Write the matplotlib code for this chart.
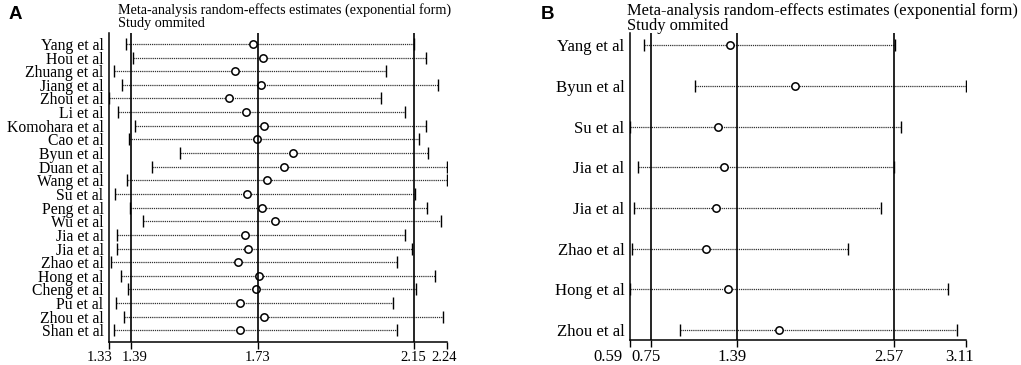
import matplotlib
matplotlib.use("Agg")
import matplotlib.pyplot as plt
from matplotlib.transforms import ScaledTranslation

plt.rcParams["font.family"] = ["Liberation Serif", "DejaVu Serif"]

# panel A: leave-one-out estimates (exponential form)
studies_a = ["Yang et al", "Hou et al", "Zhuang et al", "Jiang et al", "Zhou et al",
             "Li et al", "Komohara et al", "Cao et al", "Byun et al", "Duan et al",
             "Wang et al", "Su et al", "Peng et al", "Wu et al", "Jia et al",
             "Jia et al", "Zhao et al", "Hong et al", "Cheng et al", "Pu et al",
             "Zhou et al", "Shan et al"]
est_a = [1.718, 1.744, 1.669, 1.739, 1.654, 1.698, 1.748, 1.728, 1.824, 1.800,
         1.756, 1.702, 1.742, 1.778, 1.695, 1.704, 1.677, 1.733, 1.727, 1.682,
         1.748, 1.682]
low_a = [1.375, 1.395, 1.343, 1.365, 1.33, 1.354, 1.400, 1.383, 1.522, 1.446,
         1.378, 1.347, 1.386, 1.422, 1.351, 1.352, 1.335, 1.361, 1.381, 1.349,
         1.370, 1.344]
high_a = [2.151, 2.183, 2.076, 2.216, 2.062, 2.128, 2.183, 2.164, 2.188, 2.241,
          2.239, 2.154, 2.186, 2.223, 2.126, 2.146, 2.106, 2.207, 2.156, 2.095,
          2.230, 2.105]
ref_a = [1.39, 1.73, 2.15]
ticks_a = [1.33, 1.39, 1.73, 2.15, 2.24]

# panel B
studies_b = ["Yang et al", "Byun et al", "Su et al", "Jia et al", "Jia et al",
             "Zhao et al", "Hong et al", "Zhou et al"]
est_b = [1.343, 1.831, 1.249, 1.294, 1.236, 1.161, 1.324, 1.711]
low_b = [0.697, 1.078, 0.59, 0.648, 0.618, 0.603, 0.59, 0.963]
high_b = [2.579, 3.11, 2.627, 2.572, 2.475, 2.227, 2.977, 3.043]
ref_b = [0.75, 1.39, 2.57]
ticks_b = [0.59, 0.75, 1.39, 2.57, 3.11]

title = "Meta-analysis random-effects estimates (exponential form)\nStudy ommited"

fig = plt.figure(figsize=(10.21, 3.65), dpi=100)


def draw_panel(ax, names, est, low, high, refs, ticks, pad_top, pad_bot,
               fs, tick_fs, shifts):
    n = len(names)
    ys = list(range(1, n + 1))
    for y, lo, hi in zip(ys, low, high):
        ax.plot([lo, hi], [y, y], color="#333333", lw=0.9, ls=(0, (1, 0.7)))
        ax.plot([lo, hi], [y, y], ls="none", marker="|", ms=8, mew=1.0, color="black")
    ax.plot(est, ys, ls="none", marker="o", ms=5.3, mfc="white", mec="black", mew=1.1)
    for r in refs:
        ax.axvline(r, color="black", lw=1.2)
    ax.set_xlim(ticks[0], ticks[-1])
    ax.set_ylim(n + pad_bot, 1 - pad_top)
    ax.set_yticks(ys)
    ax.set_yticklabels(names, fontsize=fs)
    ax.tick_params(axis="y", length=0, pad=4)
    ax.set_xticks(ticks)
    ax.set_xticklabels([f"{t:.2f}" for t in ticks], fontsize=tick_fs)
    ax.tick_params(axis="x", direction="out", length=5, width=1, pad=1.5)
    # nudge crowded tick labels sideways like the original
    for lab, dx in zip(ax.get_xticklabels(), shifts):
        lab.set_transform(lab.get_transform() +
                          ScaledTranslation(dx / 100, 0, fig.dpi_scale_trans))
    for s in ["top", "right"]:
        ax.spines[s].set_visible(False)
    for s in ["left", "bottom"]:
        ax.spines[s].set_linewidth(1.1)


ax_a = fig.add_axes([0.1068, 0.063, 0.331, 0.8466])
draw_panel(ax_a, studies_a, est_a, low_a, high_a, ref_a, ticks_a, 0.8, 0.85,
           11.3, 10.5, [-9, 3, 0, 0, -3])
fig.text(0.1155, 0.993, title, ha="left", va="top", fontsize=10.2, linespacing=1.0)
fig.text(0.008, 0.96, "A", ha="left", va="center", fontsize=13.5,
         fontweight="bold", family="Liberation Sans")

ax_b = fig.add_axes([0.617, 0.0685, 0.329, 0.841])
draw_panel(ax_b, studies_b, est_b, low_b, high_b, ref_b, ticks_b, 0.3, 0.25,
           12.1, 12, [-22, -5, -5, -5, -6])
fig.text(0.614, 0.993, title, ha="left", va="top", fontsize=11.9, linespacing=0.95)
fig.text(0.530, 0.96, "B", ha="left", va="center", fontsize=13.5,
         fontweight="bold", family="Liberation Sans")

fig.savefig("out.png", dpi=100)
